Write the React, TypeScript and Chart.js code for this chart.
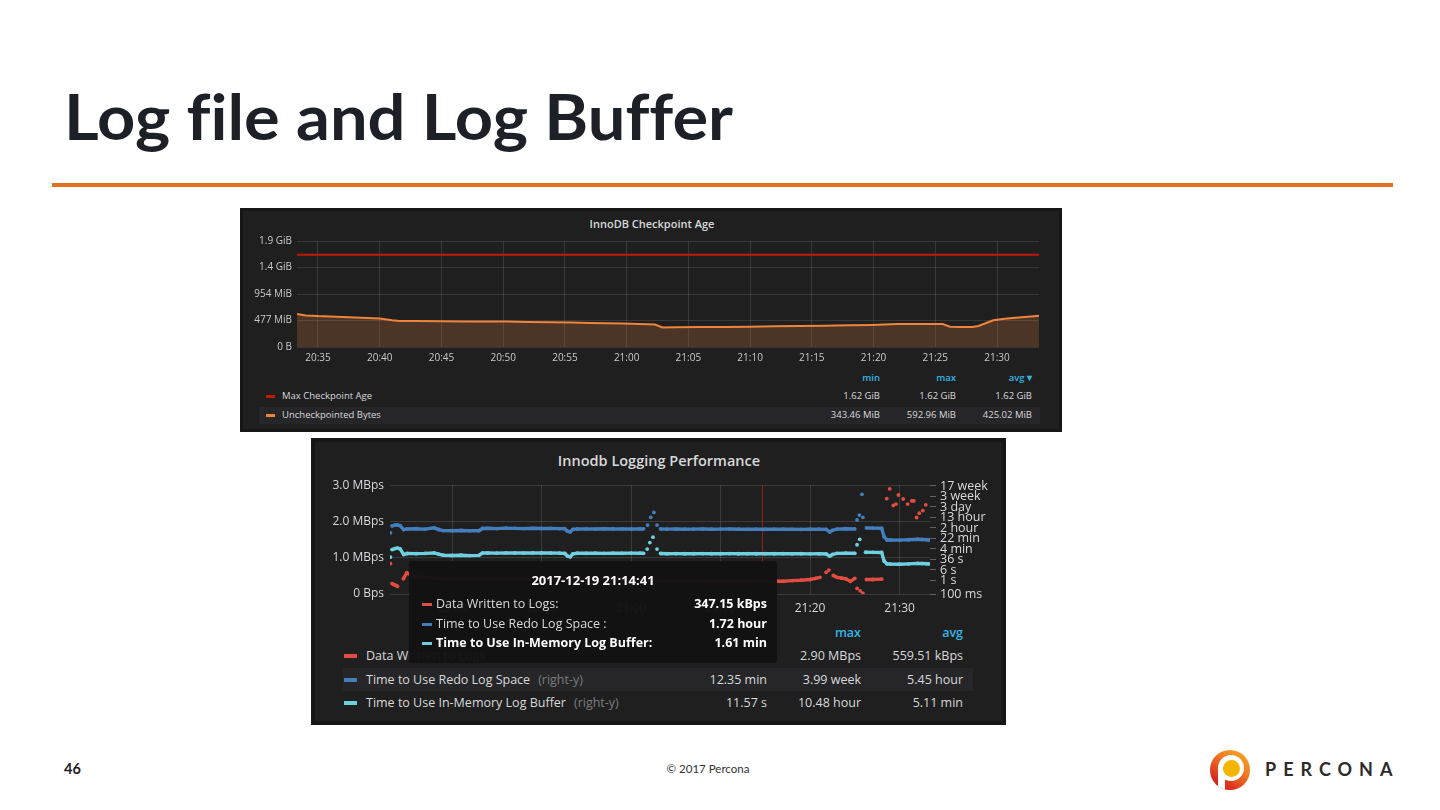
import React, { useEffect, useLayoutEffect, useRef } from "react";
import { Chart, registerables } from "chart.js";

Chart.register(...registerables);
Chart.defaults.font.family = "'Open Sans', sans-serif";

// ---------- Chart 1: InnoDB Checkpoint Age (x = minutes after 20:00, y = MiB) ----------
const cpTimes = [33.3, 34, 35, 36, 37, 38, 39, 40, 41, 41.6, 43, 45, 47, 49, 50.3, 52, 54, 55.6, 57, 59.7, 61, 62.3, 62.9, 64, 66, 68, 70, 72, 74, 76, 78, 79.9, 81.9, 83, 85, 85.6, 86.2, 87, 88, 88.5, 89.7, 90.8, 92, 93.2, 93.4];
const cpUncheckpointed = [593, 568, 556, 549, 541, 532, 522, 511, 480, 469, 466, 463, 461, 459, 458, 452, 446, 440, 434, 422, 412, 404, 350, 354, 358, 362, 366, 372, 378, 384, 390, 398, 412, 414, 415, 414, 366, 358, 360, 378, 481, 511, 535, 558, 562];
const cpMaxTimes = [33.3, 93.4];
const cpMaxAge = [1658.9, 1658.9];
const cpXTicks = [35, 40, 45, 50, 55, 60, 65, 70, 75, 80, 85, 90];
const cpXLabels = ["20:35", "20:40", "20:45", "20:50", "20:55", "21:00", "21:05", "21:10", "21:15", "21:20", "21:25", "21:30"];
const cpYTicks = [0, 476.84, 953.67, 1430.51, 1907.35];
const cpYLabels = ["0 B", "477 MiB", "954 MiB", "1.4 GiB", "1.9 GiB"];
const cpLegendNames = ["Max Checkpoint Age", "Uncheckpointed Bytes"];
const cpLegendMin = ["1.62 GiB", "343.46 MiB"];
const cpLegendMax = ["1.62 GiB", "592.96 MiB"];
const cpLegendAvg = ["1.62 GiB", "425.02 MiB"];

// ---------- Chart 2: Innodb Logging Performance ----------
// Data Written to Logs (left axis, MBps)
const dataTimes = [
  33.12, 33.2,
  33.3, 33.5, 33.7, 33.9, 34.2,
  34.56, 34.94, 35.5, 36, 38, 40, 42, 44, 46, 48, 50, 52, 54, 56, 58, 60, 62, 64, 66, 68, 70, 72, 74, 74.68, 76, 77, 78, 79, 80, 80.6, 81.1,
  81.5, 81.8, 81.95, 82.1, 82.3,
  82.6, 83, 83.5, 84, 84.5, 85, 85.1, 85.25, 85.4, 85.6, 85.75, 85.9, 86.1,
  86.3, 87, 88, 88.3,
  88.57, 88.7, 88.9, 89.1, 89.3, 89.45, 89.6, 89.75, 89.87, 90.1, 90.4, 90.6, 90.9, 91.1, 91.36, 91.6, 91.75, 91.9, 92.05, 92.2, 92.4, 92.6, 92.75, 92.93,
];
const dataValues = [
  0.838, null,
  0.287, 0.26, 0.24, 0.214, null,
  0.42, 0.58, 0.52, 0.48, 0.44, 0.42, 0.4, 0.42, 0.41, 0.4, 0.41, 0.4, 0.39, 0.4, 0.39, 0.4, 0.38, 0.37, 0.36, 0.36, 0.35, 0.35, 0.35, 0.347, 0.36, 0.35, 0.37, 0.38, 0.4, 0.43, 0.46,
  null, 0.6, null, 0.66, null,
  0.51, 0.46, 0.44, 0.42, 0.35, 0.43, null, 0.153, null, 0.088, null, 0.02, null,
  0.4, 0.4, 0.41, null,
  2.63, null, 2.9, null, 2.44, null, 2.48, null, 2.73, null, 2.62, null, 2.48, null, 2.57, 2.57, null, 2.11, null, 2.23, null, 2.3, null, 2.46,
];
// Time to Use Redo Log Space (right axis, seconds)
const redoTimes = [
  33.12, 33.2,
  33.3, 33.6, 33.9, 34.2, 34.6, 35, 36, 37, 38, 38.5, 39, 40, 41, 42, 43, 43.4, 44, 45, 46, 47, 48, 49, 50, 51, 52, 52.6, 52.9, 53.2, 53.5, 54, 55, 56, 57, 58, 59, 60, 61, 61.4,
  61.6, 61.85, 62.0, 62.2, 62.35, 62.55, 62.7, 62.9, 63.1,
  63.3, 64, 65, 66, 67, 68, 69, 70, 71, 72, 73, 74, 75, 76, 77, 78, 79, 80, 81, 81.8, 82.2, 82.5, 83, 84, 85,
  85.1, 85.25, 85.4, 85.5, 85.65, 85.8, 85.85, 85.9, 86.1,
  86.3, 87, 88, 88.27, 88.6, 89, 90, 91, 92, 92.5, 93, 93.3,
];
const redoValues = [
  3406, null,
  11000, 12500, 13000, 11500, 5900, 6600, 6800, 6400, 8000, 6000, 5000, 4900, 5100, 4800, 4900, 7200, 7400, 7000, 7600, 7300, 7000, 7400, 7100, 7300, 7000, 6800, 4500, 4000, 6200, 6600, 6700, 6500, 6800, 6600, 6700, 6500, 6600, 6700,
  null, 12800, null, 48000, null, 110000, null, 12800, null,
  6600, 6400, 6500, 6300, 6400, 6500, 6300, 6400, 6500, 6300, 6200, 6300, 6200, 6400, 6300, 6200, 6100, 6300, 6400, 6200, 4000, 5200, 6400, 6800, 6600,
  null, 30800, null, 70600, null, 2410000, null, 48200, null,
  7800, 7600, 7400, 1757, 1000, 1000, 980, 1050, 1150, 1100, 1050, 1000,
];
// Time to Use In-Memory Log Buffer (right axis, seconds)
const bufferTimes = [
  33.12, 33.2,
  33.3, 33.6, 33.9, 34.2, 34.6, 35, 36, 37, 38, 38.5, 39, 40, 41, 42, 43, 43.4, 44, 45, 46, 47, 48, 49, 50, 51, 52, 52.6, 52.9, 53.2, 53.5, 54, 55, 56, 57, 58, 59, 60, 61, 61.4,
  61.6, 61.8, 61.95, 62.1, 62.25, 62.45, 62.7, 62.9, 63.1,
  63.3, 64, 65, 66, 67, 68, 69, 70, 71, 72, 73, 74, 75, 76, 77, 78, 79, 80, 81, 81.8, 82.2, 82.5, 83, 84, 85,
  85.1, 85.25, 85.4, 85.55, 85.8,
  86.2, 87, 88, 88.27, 88.6, 89, 90, 91, 92, 92.5, 93, 93.3,
];
const bufferValues = [
  54, null,
  194, 230, 253, 220, 85, 100, 98, 102, 110, 90, 75, 72, 74, 70, 73, 108, 110, 106, 112, 110, 108, 112, 110, 108, 106, 100, 65, 57, 95, 105, 104, 106, 103, 105, 104, 106, 105, 104,
  null, 214, null, 650, null, 1617, null, 214, null,
  100, 97, 98, 96, 97, 98, 96, 97, 98, 96, 97, 96, 97, 96, 97, 95, 96, 94, 95, 93, 64, 85, 103, 106, 104,
  null, 444, null, 1122, null,
  124, 122, 120, 27.9, 17, 16.5, 16, 17, 18.5, 18, 17.5, 17,
];
const lpXTicks = [40, 50, 60, 70, 80, 90];
const lpXLabels = ["20:40", "20:50", "21:00", "21:10", "21:20", "21:30"];
const lpLeftTicks = [0, 1, 2, 3];
const lpLeftLabels = ["0 Bps", "1.0 MBps", "2.0 MBps", "3.0 MBps"];
const lpRightTicks = [0.1, 1, 6, 36, 216, 1296, 7776, 46656, 279936, 1679616, 10077696];
const lpRightLabels = ["100 ms", "1 s", "6 s", "36 s", "4 min", "22 min", "2 hour", "13 hour", "3 day", "3 week", "17 week"];
const lpCrosshairTime = 74.683;
const lpTooltipTitle = "2017-12-19 21:14:41";
const lpSeriesNames = ["Data Written to Logs", "Time to Use Redo Log Space", "Time to Use In-Memory Log Buffer"];
const lpTooltipLabels = ["Data Written to Logs:", "Time to Use Redo Log Space :", "Time to Use In-Memory Log Buffer:"];
const lpTooltipValues = ["347.15 kBps", "1.72 hour", "1.61 min"];
const lpLegendMin = ["", "12.35 min", "11.57 s"];
const lpLegendMax = ["2.90 MBps", "3.99 week", "10.48 hour"];
const lpLegendAvg = ["559.51 kBps", "5.45 hour", "5.11 min"];

const RED = "#E24D42";
const BLUE = "#447EBC";
const CYAN = "#6ED0E0";
const TXT = "#d8d9da";

const pts = (xs: number[], ys: (number | null)[]) => xs.map((x, i) => ({ x, y: ys[i] }));

function T(props: any) {
  const { x, y, a = "left", s = 12, w = 400, c = TXT, f = "'Open Sans', sans-serif", ls, children, z } = props;
  const tx = a === "left" ? "0" : a === "right" ? "-100%" : "-50%";
  return (
    <div
      style={{
        position: "absolute",
        left: x,
        top: y,
        transform: `translate(${tx},-50%)`,
        whiteSpace: "nowrap",
        fontFamily: f,
        fontSize: s,
        fontWeight: w,
        color: c,
        lineHeight: 1,
        letterSpacing: ls,
        zIndex: z,
      }}
    >
      {children}
    </div>
  );
}

function Box(props: any) {
  const { x, y, w, h, bg, r, z } = props;
  return <div style={{ position: "absolute", left: x, top: y, width: w, height: h, background: bg, borderRadius: r, zIndex: z }} />;
}

function CheckpointChart() {
  const ref = useRef<HTMLCanvasElement>(null);
  useEffect(() => {
    const grid = "rgba(255,255,255,0.11)";
    const chart = new Chart(ref.current as HTMLCanvasElement, {
      type: "line",
      data: {
        datasets: [
          {
            label: cpLegendNames[0],
            data: pts(cpMaxTimes, cpMaxAge),
            borderColor: "#BF1B00",
            borderWidth: 2,
            pointRadius: 0,
            fill: false,
          },
          {
            label: cpLegendNames[1],
            data: pts(cpTimes, cpUncheckpointed),
            borderColor: "#EF843C",
            backgroundColor: "rgba(239,132,60,0.22)",
            borderWidth: 2,
            pointRadius: 0,
            tension: 0,
            fill: "origin",
          },
        ],
      },
      options: {
        animation: false,
        responsive: true,
        maintainAspectRatio: false,
        events: [],
        layout: { padding: { left: 0, right: 13, top: 10, bottom: 0 } },
        plugins: { legend: { display: false }, tooltip: { enabled: false } },
        scales: {
          x: {
            type: "linear",
            min: 33.3,
            max: 93.4,
            afterBuildTicks: (s: any) => {
              s.ticks = cpXTicks.map((v) => ({ value: v }));
            },
            afterFit: (s: any) => {
              s.height = 23;
            },
            ticks: {
              callback: (_v: any, i: number) => cpXLabels[i],
              color: "#c8c9ca",
              font: { size: 10 },
              padding: 5,
              autoSkip: false,
              maxRotation: 0,
            },
            grid: { color: grid, drawTicks: false },
            border: { display: false },
          },
          y: {
            type: "linear",
            min: 0,
            max: 1907.35,
            afterBuildTicks: (s: any) => {
              s.ticks = cpYTicks.map((v) => ({ value: v }));
            },
            afterFit: (s: any) => {
              s.width = 57;
            },
            ticks: {
              callback: (_v: any, i: number) => cpYLabels[i],
              color: "#c8c9ca",
              font: { size: 10 },
              padding: 5,
              autoSkip: false,
            },
            grid: { color: grid, drawTicks: false },
            border: { display: false },
          },
        },
      } as any,
    });
    return () => chart.destroy();
  }, []);
  return (
    <div style={{ position: "absolute", left: 240, top: 230, width: 812, height: 140 }}>
      <canvas ref={ref} />
    </div>
  );
}

const crosshairPlugin = {
  id: "crosshair",
  beforeDatasetsDraw(chart: any) {
    const x = chart.scales.x.getPixelForValue(lpCrosshairTime);
    const { top, bottom } = chart.chartArea;
    const ctx = chart.ctx;
    ctx.save();
    ctx.strokeStyle = "#9a1c1c";
    ctx.lineWidth = 1;
    ctx.beginPath();
    ctx.moveTo(x, top);
    ctx.lineTo(x, bottom);
    ctx.stroke();
    ctx.restore();
  },
};

function LoggingChart() {
  const ref = useRef<HTMLCanvasElement>(null);
  useEffect(() => {
    const grid = "rgba(255,255,255,0.12)";
    const series = (label: string, d: any[], color: string, axis: string) => ({
      label,
      data: d,
      borderColor: color,
      backgroundColor: color,
      pointBackgroundColor: color,
      pointBorderWidth: 0,
      pointRadius: 1.9,
      borderWidth: 3.4,
      tension: 0,
      spanGaps: false,
      fill: false,
      yAxisID: axis,
    });
    const chart = new Chart(ref.current as HTMLCanvasElement, {
      type: "line",
      data: {
        datasets: [
          series(lpSeriesNames[2], pts(bufferTimes, bufferValues), CYAN, "y1"),
          series(lpSeriesNames[1], pts(redoTimes, redoValues), BLUE, "y1"),
          series(lpSeriesNames[0], pts(dataTimes, dataValues), RED, "y"),
        ],
      },
      options: {
        animation: false,
        responsive: true,
        maintainAspectRatio: false,
        events: [],
        layout: { padding: { left: 0, right: 0, top: 8, bottom: 0 } },
        plugins: { legend: { display: false }, tooltip: { enabled: false } },
        scales: {
          x: {
            type: "linear",
            min: 33.07,
            max: 93.4,
            afterBuildTicks: (s: any) => {
              s.ticks = lpXTicks.map((v) => ({ value: v }));
            },
            afterFit: (s: any) => {
              s.height = 28;
            },
            ticks: {
              callback: (_v: any, i: number) => lpXLabels[i],
              color: TXT,
              font: { size: 12 },
              padding: 7,
              autoSkip: false,
              maxRotation: 0,
            },
            grid: { color: grid, drawTicks: false },
            border: { display: false },
          },
          y: {
            type: "linear",
            position: "left",
            min: 0,
            max: 3,
            afterBuildTicks: (s: any) => {
              s.ticks = lpLeftTicks.map((v) => ({ value: v }));
            },
            afterFit: (s: any) => {
              s.width = 74;
            },
            ticks: {
              callback: (_v: any, i: number) => lpLeftLabels[i],
              color: TXT,
              font: { size: 12 },
              padding: 6,
              autoSkip: false,
            },
            grid: { color: grid, drawTicks: false },
            border: { display: false },
          },
          y1: {
            type: "logarithmic",
            position: "right",
            min: 0.1,
            max: 11500000,
            afterBuildTicks: (s: any) => {
              s.ticks = lpRightTicks.map((v) => ({ value: v }));
            },
            afterFit: (s: any) => {
              s.width = 72;
            },
            ticks: {
              callback: (_v: any, i: number) => lpRightLabels[i],
              color: TXT,
              font: { size: 12.5 },
              padding: 4,
              autoSkip: false,
            },
            grid: { drawOnChartArea: false, drawTicks: true, tickLength: 6, tickColor: "rgba(255,255,255,0.3)" },
            border: { display: false },
          },
        },
      } as any,
      plugins: [crosshairPlugin],
    });
    return () => chart.destroy();
  }, []);
  return (
    <div style={{ position: "absolute", left: 316, top: 472, width: 686, height: 150 }}>
      <canvas ref={ref} />
    </div>
  );
}

function CheckpointPanel() {
  const rows = [396, 415];
  const colors = ["#BF1B00", "#EF843C"];
  return (
    <>
      <Box x={240} y={208} w={822} h={224} bg="#161617" />
      <Box x={243} y={211} w={816} h={218} bg="#1f1f20" />
      <T x={652} y={223} a="center" s={11} w={600}>InnoDB Checkpoint Age</T>
      <CheckpointChart />
      <Box x={259} y={407} w={781} h={17} bg="#262628" />
      <T x={880} y={378} a="right" s={9.5} w={600} c="#33b5e5">min</T>
      <T x={956} y={378} a="right" s={9.5} w={600} c="#33b5e5">max</T>
      <T x={1032} y={378} a="right" s={9.5} w={600} c="#33b5e5">avg ▾</T>
      {rows.map((y, i) => (
        <React.Fragment key={i}>
          <Box x={266} y={y - 1} w={9} h={3} bg={colors[i]} />
          <T x={282} y={y} s={9.5} c={TXT}>{cpLegendNames[i]}</T>
          <T x={880} y={y} a="right" s={9.5}>{cpLegendMin[i]}</T>
          <T x={956} y={y} a="right" s={9.5}>{cpLegendMax[i]}</T>
          <T x={1032} y={y} a="right" s={9.5}>{cpLegendAvg[i]}</T>
        </React.Fragment>
      ))}
    </>
  );
}

function LoggingPanel() {
  const rows = [656, 680, 703];
  const colors = [RED, BLUE, CYAN];
  return (
    <>
      <Box x={311} y={438} w={695} h={287} bg="#161617" />
      <Box x={315} y={442} w={687} h={279} bg="#1f1f20" />
      <T x={659} y={461} a="center" s={14.5} w={600}>Innodb Logging Performance</T>
      <LoggingChart />
      <Box x={343} y={668} w={630} h={23} bg="#262628" />
      <T x={861} y={633} a="right" s={12.5} w={600} c="#33b5e5">max</T>
      <T x={963} y={633} a="right" s={12.5} w={600} c="#33b5e5">avg</T>
      {rows.map((y, i) => (
        <React.Fragment key={i}>
          <Box x={344} y={y - 2} w={13} h={4} bg={colors[i]} />
          <T x={366} y={y} s={12.5}>
            {lpSeriesNames[i]}
            {i > 0 ? <span style={{ color: "#7c7c7e", marginLeft: 8 }}>(right-y)</span> : null}
          </T>
          <T x={767} y={y} a="right" s={12.5}>{lpLegendMin[i]}</T>
          <T x={861} y={y} a="right" s={12.5}>{lpLegendMax[i]}</T>
          <T x={963} y={y} a="right" s={12.5}>{lpLegendAvg[i]}</T>
        </React.Fragment>
      ))}
      {/* hover tooltip */}
      <Box x={409} y={561} w={368} h={102} bg="rgba(18,18,19,0.97)" r={3} z={5} />
      <T x={593} y={580} a="center" s={13} w={700} c="#ffffff" z={6}>{lpTooltipTitle}</T>
      {[604, 624, 643].map((y, i) => (
        <React.Fragment key={"tt" + i}>
          <Box x={422} y={y - 1.5} w={10} h={3} bg={colors[i]} z={6} />
          <T x={436} y={y} s={12.5} w={i === 2 ? 700 : 400} c={i === 2 ? "#ffffff" : TXT} z={6}>{lpTooltipLabels[i]}</T>
          <T x={767} y={y} a="right" s={12.5} w={700} c="#ffffff" z={6}>{lpTooltipValues[i]}</T>
        </React.Fragment>
      ))}
    </>
  );
}

function PerconaLogo() {
  return (
    <>
      <div style={{ position: "absolute", left: 1210, top: 750, width: 40, height: 40, borderRadius: "50%", overflow: "hidden", background: "linear-gradient(215deg, #f6b024 0%, #ef7a22 40%, #d9271d 80%, #c91d1c 100%)" }}>
        <div style={{ position: "absolute", left: 8, top: 18, width: 7, height: 26, background: "#fff" }} />
        <div style={{ position: "absolute", left: 8, top: 5, width: 26, height: 26, borderRadius: "50%", background: "#fff" }} />
        <div style={{ position: "absolute", left: 12.5, top: 9.5, width: 17, height: 17, borderRadius: "50%", background: "#f4b400" }} />
      </div>
      <T x={1265} y={769} s={18} w={700} c="#2b2b2d" f="Lato, sans-serif" ls={7}>PERCONA</T>
    </>
  );
}

export default function App() {
  const titleRef = useRef<HTMLSpanElement>(null);
  useLayoutEffect(() => {
    const el = titleRef.current;
    if (el) {
      const w = el.getBoundingClientRect().width;
      if (w > 0) el.style.transform = `scaleX(${669 / w})`;
    }
  }, []);
  return (
    <div style={{ position: "absolute", left: 0, top: 0, width: 1440, height: 810, background: "#ffffff", overflow: "hidden" }}>
      <div style={{ position: "absolute", left: 64, top: 84, lineHeight: "63px", height: 63 }}>
        <span
          ref={titleRef}
          style={{ display: "inline-block", transformOrigin: "0 0", fontFamily: "Lato, sans-serif", fontWeight: 700, fontSize: 63, color: "#1d2127", whiteSpace: "nowrap", fontVariantLigatures: "none" }}
        >
          Log file and Log Buffer
        </span>
      </div>
      <Box x={52} y={183} w={1341} h={4} bg="#e2701f" />
      <CheckpointPanel />
      <LoggingPanel />
      <T x={64} y={769} s={14.5} w={700} c="#1d2127" f="Lato, sans-serif">46</T>
      <T x={708} y={769} a="center" s={11.5} c="#333" f="Lato, sans-serif">© 2017 Percona</T>
      <PerconaLogo />
    </div>
  );
}
